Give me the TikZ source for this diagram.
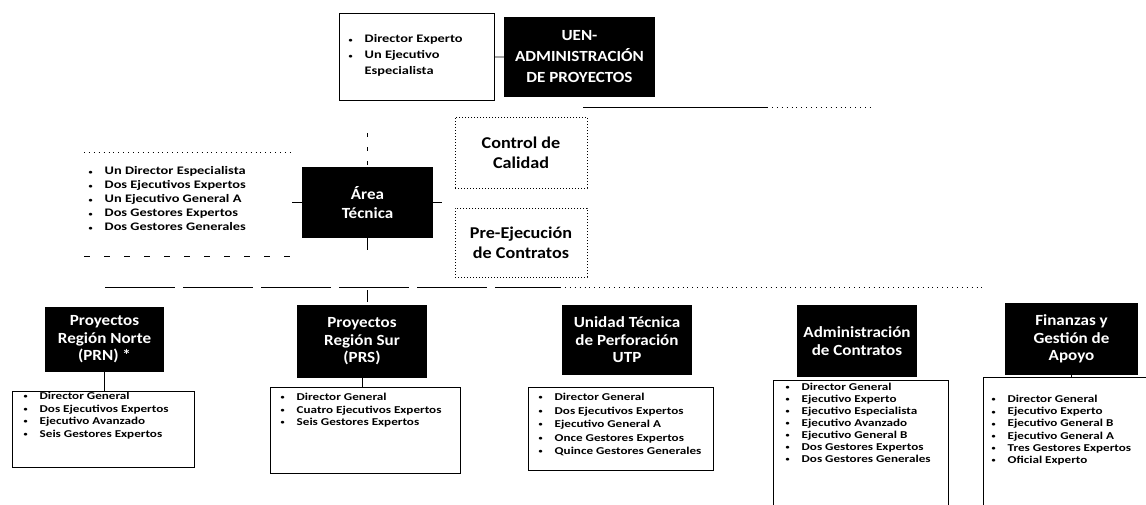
\documentclass[tikz,border=0pt]{standalone}
\usepackage{fontspec}
\setmainfont{Carlito}
\newfontfamily\boxfont[FakeStretch=1.1]{Carlito}
\newfontfamily\listfont[FakeStretch=1.25]{Carlito}
\usetikzlibrary{calc}
\newcommand\itm{\makebox[17pt][l]{\hspace{1pt}\raisebox{0.15ex}{\fontsize{6.5}{6.5}\selectfont•}}}
\tikzset{
  unit/.style={fill=black,text=white,align=center,inner sep=0pt,font=\boxfont\bfseries\fontsize{15.5}{17.5}\selectfont},
  staff/.style={draw,line width=0.9pt,anchor=north west,inner sep=0pt},
  items/.style={anchor=north west,align=left,inner sep=0pt,font=\listfont\bfseries\fontsize{10.5}{12.5}\selectfont},
  aux/.style={draw,dotted,line width=1pt,align=center,inner sep=0pt,font=\boxfont\bfseries\fontsize{16.5}{20}\selectfont},
  link/.style={line width=0.9pt}
}
\begin{document}
\begin{tikzpicture}[x=1pt,y=-1pt]
\useasboundingbox (0,0) rectangle (1146,504);
\clip (0,0) rectangle (1146,504);
\node[staff,minimum width=155pt,minimum height=87pt](tll)at(339,13){};
\node[items,font=\listfont\bfseries\fontsize{11.5}{16}\selectfont]at(347.5,34.6){\itm Director Experto\\\itm Un Ejecutivo\\\hspace*{17pt}Especialista};
\node[unit,minimum width=151pt,minimum height=80pt,font=\boxfont\bfseries\fontsize{15.5}{21}\selectfont](uen)at(579.5,57){UEN-\\ADMINISTRACIÓN\\DE PROYECTOS};
\node[unit,minimum width=131pt,minimum height=71pt,font=\boxfont\bfseries\fontsize{15.5}{19}\selectfont](tec)at(367.5,202.5){Área\\Técnica};
\node[inner sep=0pt,minimum width=208pt,minimum height=104pt,anchor=north west](tecl)at(84,152){};
\node[items,font=\listfont\bfseries\fontsize{11.5}{14}\selectfont]at(87.5,166.6){\itm Un Director Especialista\\\itm Dos Ejecutivos Expertos\\\itm Un Ejecutivo General A\\\itm Dos Gestores Expertos\\\itm Dos Gestores Generales};
\node[aux,minimum width=132pt,minimum height=71pt](cal)at(521,152.5){Control de\\Calidad};
\node[aux,minimum width=132pt,minimum height=69pt](pre)at(521,242.5){Pre-Ejecución\\de Contratos};
\node[unit,minimum width=119pt,minimum height=65pt](prn)at(104.5,339.5){Proyectos\\Región Norte\\(PRN) *};
\node[unit,minimum width=130pt,minimum height=73pt](prs)at(362,341.5){Proyectos\\Región Sur\\(PRS)};
\node[unit,minimum width=130pt,minimum height=70pt](utp)at(627,340){Unidad Técnica\\de Perforación\\UTP};
\node[unit,minimum width=120pt,minimum height=72pt](adm)at(857,341){Administración\\de Contratos};
\node[unit,minimum width=133pt,minimum height=72pt](fin)at(1071.5,339){Finanzas y\\Gestión de\\Apoyo};
\node[staff,minimum width=182pt,minimum height=76pt](prnl)at(12,391){};
\node[items]at(22.5,392){\itm Director General\\\itm Dos Ejecutivos Expertos\\\itm Ejecutivo Avanzado\\\itm Seis Gestores Expertos};
\node[staff,minimum width=190pt,minimum height=86pt](prsl)at(270,387){};
\node[items]at(279.5,393){\itm Director General\\\itm Cuatro Ejecutivos Expertos\\\itm Seis Gestores Expertos};
\node[staff,minimum width=185pt,minimum height=83pt](utpl)at(528,387){};
\node[items,font=\listfont\bfseries\fontsize{10.5}{13.5}\selectfont]at(537.5,393){\itm Director General\\\itm Dos Ejecutivos Expertos\\\itm Ejecutivo General A\\\itm Once Gestores Expertos\\\itm Quince Gestores Generales};
\node[staff,minimum width=175pt,minimum height=130pt](adml)at(773,380){};
\node[items,font=\listfont\bfseries\fontsize{10.5}{12}\selectfont]at(784.5,383){\itm Director General\\\itm Ejecutivo Experto\\\itm Ejecutivo Especialista\\\itm Ejecutivo Avanzado\\\itm Ejecutivo General B\\\itm Dos Gestores Expertos\\\itm Dos Gestores Generales};
\node[staff,minimum width=170pt,minimum height=135pt](finl)at(983,377){};
\node[items,font=\listfont\bfseries\fontsize{10.5}{12.2}\selectfont]at(990.5,395){\itm Director General\\\itm Ejecutivo Experto\\\itm Ejecutivo General B\\\itm Ejecutivo General A\\\itm Tres Gestores Expertos\\\itm Oficial Experto};
\coordinate(topa)at(583,107);
\coordinate(topb)at(767,107);
\coordinate(topc)at(870,107);
\coordinate(trunk)at(367.5,133);
\coordinate(busw)at(105,287);
\coordinate(busm)at(560,287);
\coordinate(buse)at(985,287);
\coordinate(tecr)at(442,202.5);
\draw[link](tll.east)--(uen.west);
\draw[link](topa)--(topb);
\draw[link,loosely dotted](topb)--(topc);
\draw[link,dash pattern=on 4pt off 10pt](trunk)--(tec.north);
\draw[link,dash pattern=on 12pt off 40pt](tec.south)--(tec.south|-prs.north);
\draw[link,dash pattern=on 70pt off 8pt](busw)--(busm);
\draw[link,loosely dotted](busm)--(buse);
\draw[link,loosely dotted](tecl.north west)--(tecl.north east);
\draw[link,dash pattern=on 6pt off 14pt](tecl.south west)--(tecl.south east);
\draw[link](tecl.east|-tec.west)--(tec.west);
\draw[link](tec.east)--(tecr);
\draw[link](prn.south)--(prn.south|-prnl.north);
\draw[link](prs.south)--(prs.south|-prsl.north);
\draw[link](fin.south)--(fin.south|-finl.north);
\end{tikzpicture}
\end{document}
